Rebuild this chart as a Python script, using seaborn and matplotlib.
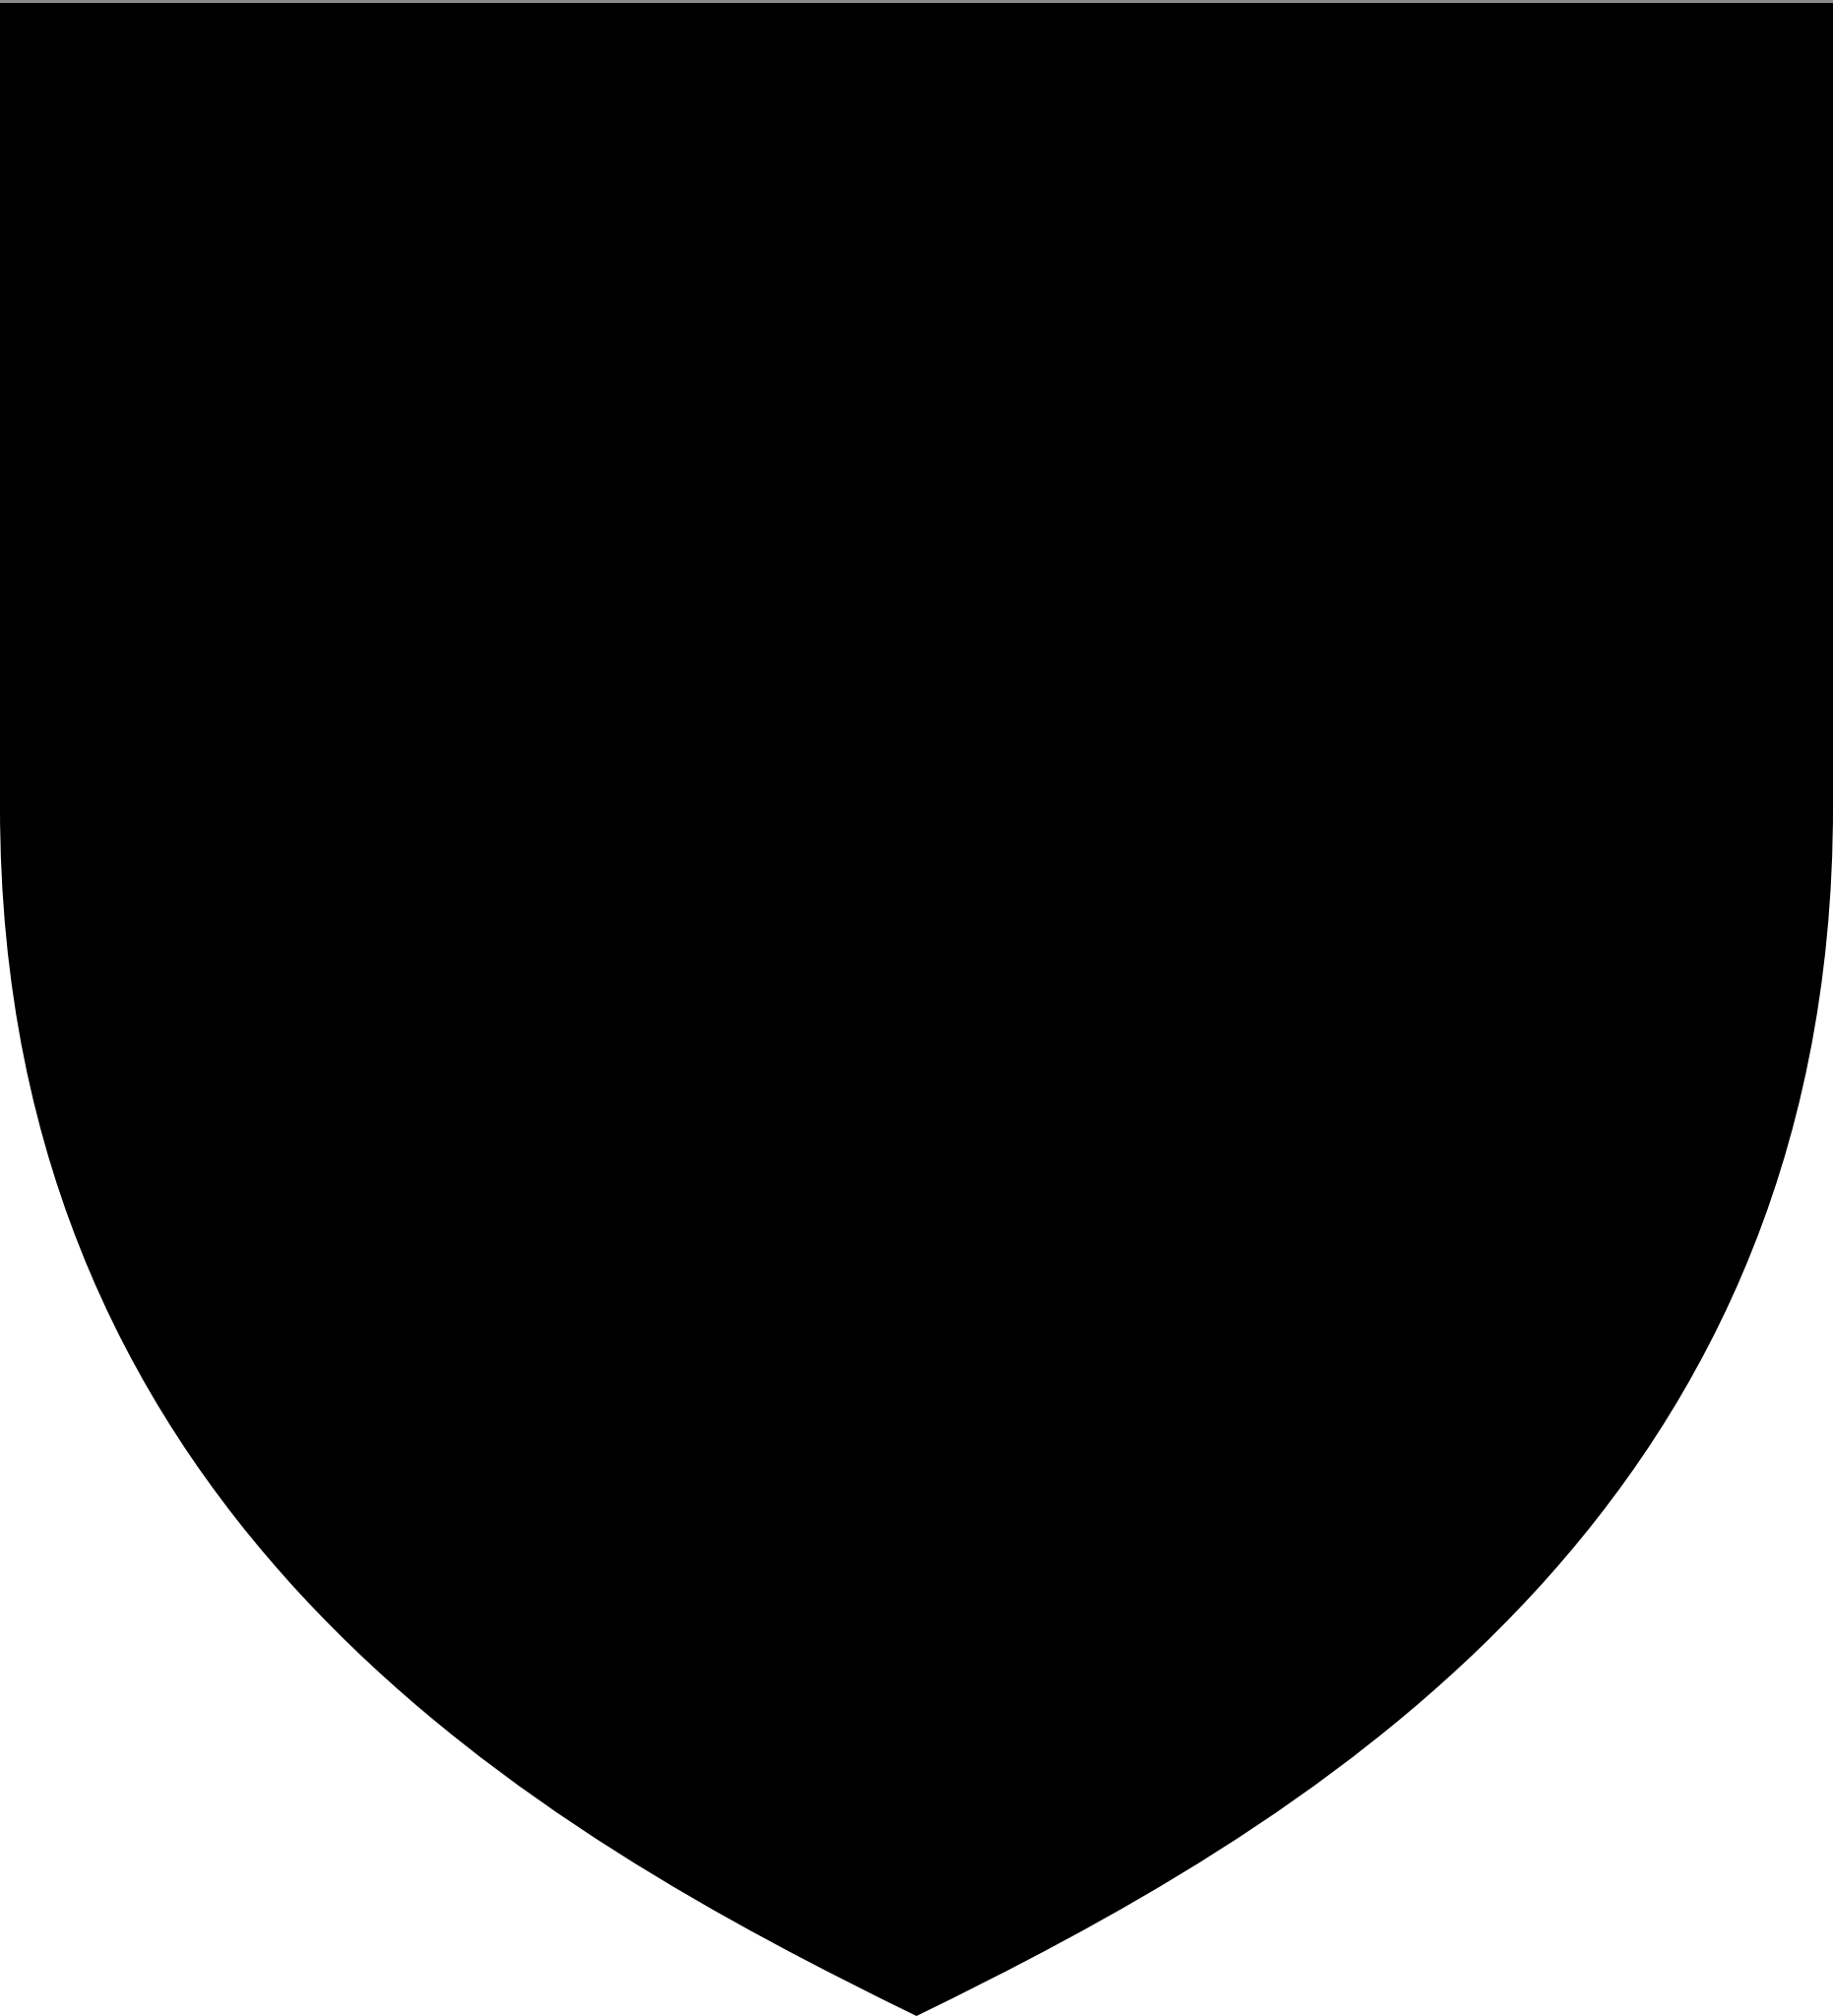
import matplotlib
matplotlib.use("Agg")
import matplotlib.pyplot as plt
from matplotlib.path import Path
from matplotlib.patches import PathPatch
import seaborn as sns

# Shield outline (pixel units, y grows downward)
W, H = 1862, 2048
top_y = 3
shoulder_y = 820
tip_x = 931
tip_y = 2048
# cubic Bezier control points for the left flank (shoulder -> tip)
left_ctrl_x = [0, 550]
left_ctrl_y = [1550, 1862]

sns.set_theme(style="white")
fig = plt.figure(figsize=(W / 100, H / 100), dpi=100)
ax = fig.add_axes([0, 0, 1, 1])
ax.set_xlim(0, W)
ax.set_ylim(H, 0)
ax.axis("off")

verts = [
    (0, top_y),
    (W, top_y),
    (W, shoulder_y),
    (W - left_ctrl_x[0], left_ctrl_y[0]),
    (W - left_ctrl_x[1], left_ctrl_y[1]),
    (tip_x, tip_y),
    (left_ctrl_x[1], left_ctrl_y[1]),
    (left_ctrl_x[0], left_ctrl_y[0]),
    (0, shoulder_y),
    (0, top_y),
]
codes = [Path.MOVETO, Path.LINETO, Path.LINETO,
         Path.CURVE4, Path.CURVE4, Path.CURVE4,
         Path.CURVE4, Path.CURVE4, Path.CURVE4,
         Path.CLOSEPOLY]
ax.add_patch(PathPatch(Path(verts, codes), facecolor="black", edgecolor="none"))
ax.axhline(1, color="#8a8a8a", linewidth=2.2)

fig.savefig("out.png", dpi=100, facecolor="white")
